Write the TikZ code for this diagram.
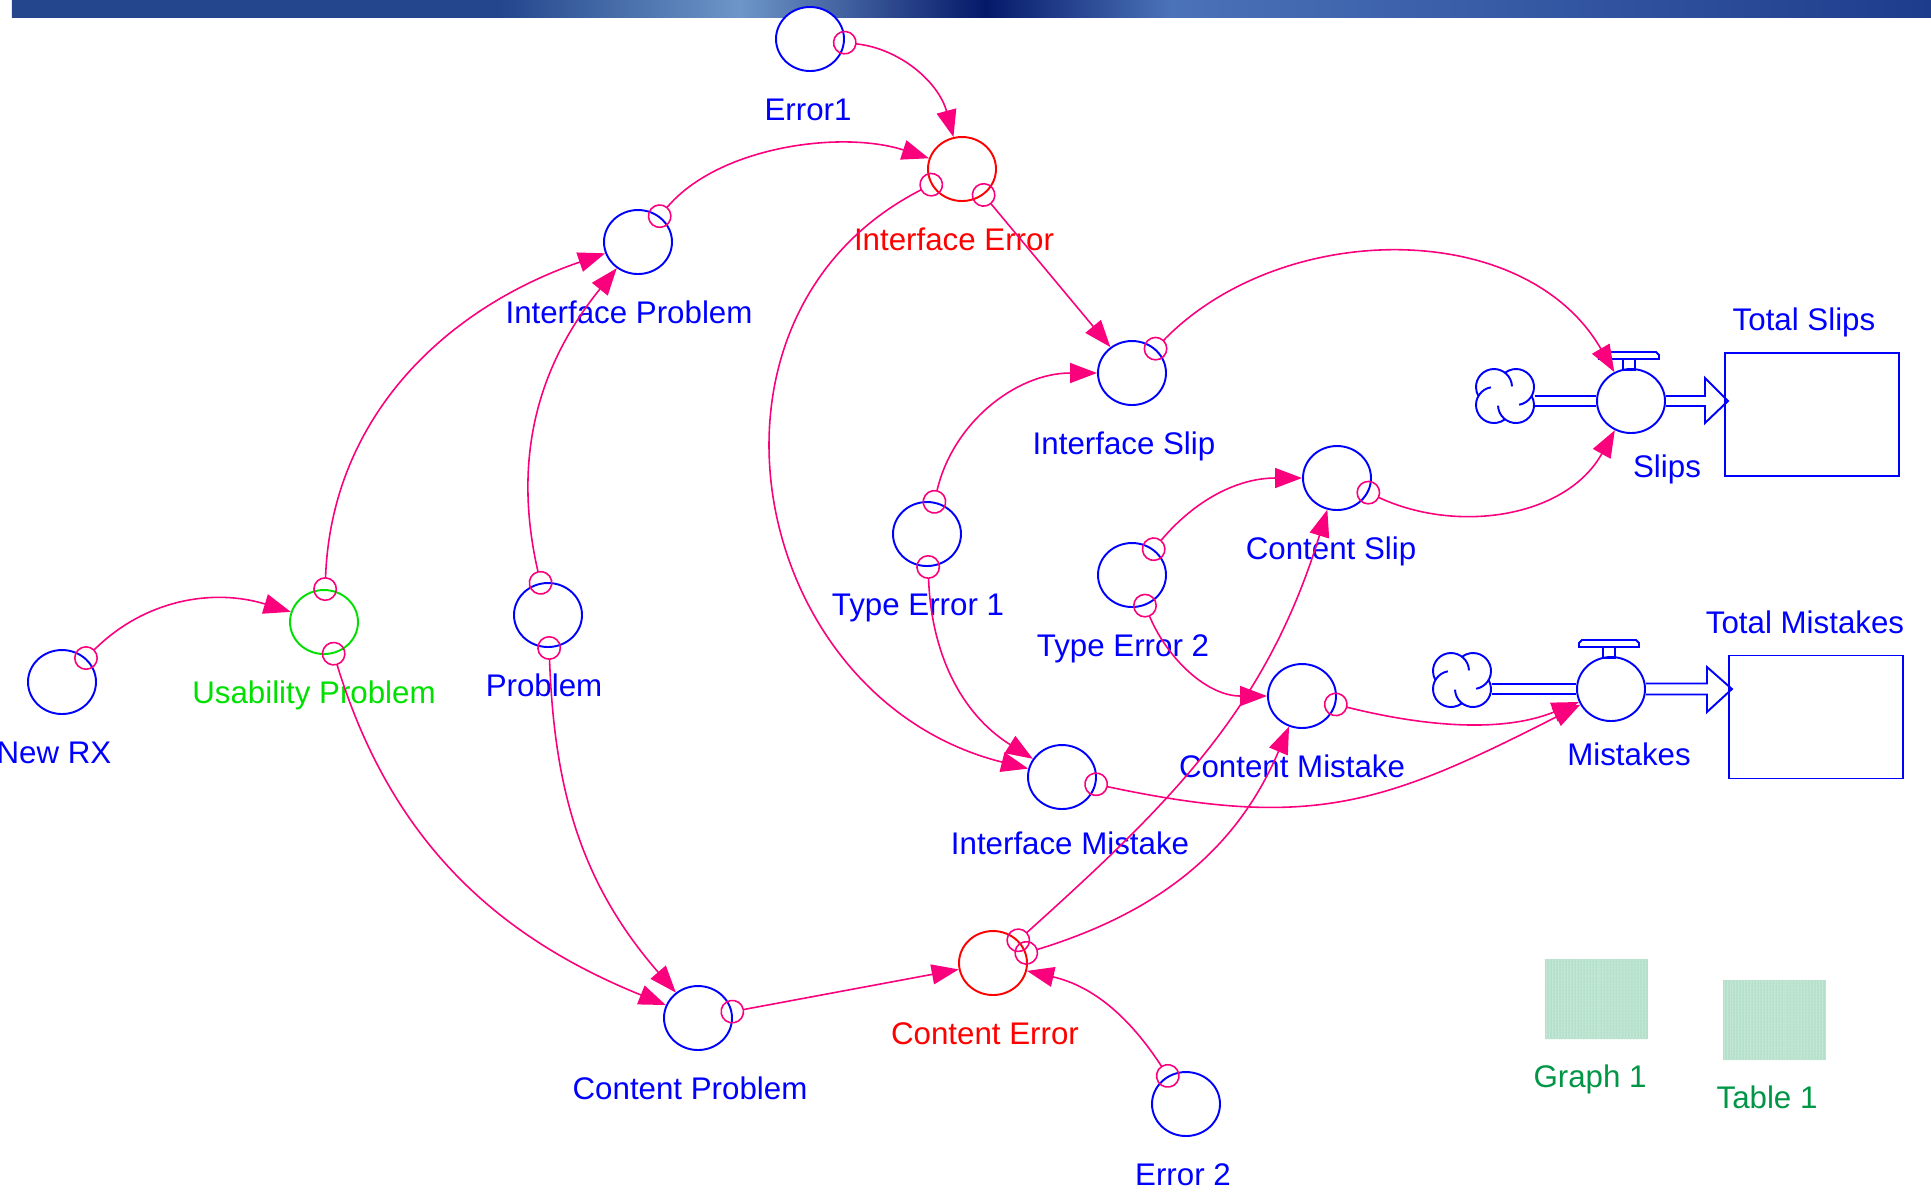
\documentclass[tikz,border=0pt]{standalone}
\usepackage{fontspec}
\setmainfont{Liberation Sans}
\usepackage{tikz}
\usetikzlibrary{arrows.meta, shapes.geometric, patterns.meta}
\usepackage{xcolor}

\definecolor{auxblue}{RGB}{0,0,255}
\definecolor{errred}{RGB}{255,0,0}
\definecolor{usegreen}{RGB}{0,224,0}
\definecolor{linkpink}{RGB}{250,0,125}
\definecolor{objgreen}{RGB}{0,150,70}
\definecolor{objfill}{RGB}{180,224,203}
\definecolor{objstripe}{RGB}{206,236,221}
\definecolor{bandA}{RGB}{35,70,140}
\definecolor{bandB}{RGB}{110,150,200}
\definecolor{bandC}{RGB}{5,25,105}
\definecolor{bandD}{RGB}{75,115,185}
\definecolor{bandE}{RGB}{30,60,140}

\begin{document}
\begin{tikzpicture}[
  font=\fontsize{8.9}{10}\selectfont,
  label distance=0.24cm,
  every label/.style={text height=6.7pt, text depth=2.2pt, inner sep=0pt},
  aux/.style={ellipse, draw=auxblue, fill=white, line width=0.55pt,
    minimum width=0.68cm, minimum height=0.64cm, inner sep=0pt},
  errnode/.style={aux, draw=errred},
  usenode/.style={aux, draw=usegreen},
  stock/.style={rectangle, draw=auxblue, line width=0.55pt,
    minimum width=1.74cm, minimum height=1.23cm},
  cloudbox/.style={rectangle, minimum width=0.58cm, minimum height=0.54cm, inner sep=0pt},
  objbox/.style={rectangle, fill=objfill, minimum width=1.03cm, minimum height=0.80cm,
    postaction={pattern={Lines[angle=90, distance=0.9pt, line width=0.35pt]}, pattern color=objstripe}},
  flowline/.style={draw=auxblue, line width=0.55pt},
  pipe/.style={draw=auxblue, line width=0.55pt, double=white, double distance=2.3pt},
  link/.style={draw=linkpink, line width=0.45pt,
    {Circle[open, length=0.24cm]}-{Triangle[length=0.27cm, width=0.2cm]},
    shorten <=-0.12cm},
  cloud/.pic={
    \draw[flowline] (-0.11,0.09) ++(2:0.18) arc[start angle=2, end angle=210, radius=0.18];
    \draw[flowline] (-0.11,-0.09) ++(100:0.18) arc[start angle=100, end angle=308, radius=0.18];
    \draw[flowline] (0.11,-0.09) ++(182:0.18) arc[start angle=182, end angle=390, radius=0.18];
    \draw[flowline] (0.11,0.09) ++(280:0.18) arc[start angle=280, end angle=488, radius=0.18];
  },
  handle/.pic={
    \draw[flowline] (-0.08,0.31) rectangle (0.04,0.42);
    \draw[flowline] (-0.32,0.42) -- (-0.32,0.46) -- (-0.29,0.49) -- (0.25,0.49)
      -- (0.28,0.46) -- (0.28,0.42) -- cycle;
  }
]
  \useasboundingbox (0,0) rectangle (19.31,-11.91);

  % title band
  \shade[left color=bandA, right color=bandA] (0.12,0) rectangle (5.0,-0.17);
  \shade[left color=bandA, right color=bandB] (5.0,0) rectangle (7.4,-0.17);
  \shade[left color=bandB, right color=bandC] (7.4,0) rectangle (9.85,-0.17);
  \shade[left color=bandC, right color=bandD] (9.85,0) rectangle (11.7,-0.17);
  \shade[left color=bandD, right color=bandE] (11.7,0) rectangle (19.31,-0.17);

  % converters
  \node[aux, label={[auxblue, xshift=-0.02cm]below:Error1}] (errA) at (8.10,-0.39) {};
  \node[errnode, label={[errred, xshift=-0.08cm]below:Interface Error}] (ie) at (9.62,-1.69) {};
  \node[aux, label={[auxblue, xshift=-0.09cm]below:Interface Problem}] (ip) at (6.38,-2.42) {};
  \node[usenode, label={[usegreen, xshift=-0.10cm]below:Usability Problem}] (up) at (3.24,-6.22) {};
  \node[aux, label={[auxblue, xshift=-0.08cm]below:New RX}] (nrx) at (0.62,-6.82) {};
  \node[aux, label={[auxblue, xshift=-0.04cm]below:Problem}] (prob) at (5.48,-6.15) {};
  \node[aux, label={[auxblue, xshift=-0.08cm]below:Content Problem}] (cp) at (6.98,-10.18) {};
  \node[errnode, label={[errred, xshift=-0.08cm]below:Content Error}] (ce) at (9.93,-9.63) {};
  \node[aux, label={[auxblue, xshift=-0.03cm]below:Error 2}] (errB) at (11.86,-11.04) {};
  \node[aux, label={[auxblue, xshift=-0.08cm]below:Interface Slip}] (is) at (11.32,-3.73) {};
  \node[aux, label={[auxblue, xshift=-0.09cm]below:Type Error 1}] (te1) at (9.27,-5.34) {};
  \node[aux, label={[auxblue, xshift=-0.06cm]below:Content Slip}] (cs) at (13.37,-4.78) {};
  \node[aux, label={[auxblue, xshift=-0.09cm]below:Type Error 2}] (te2) at (11.32,-5.75) {};
  \node[aux, label={[auxblue, xshift=-0.10cm]below:Content Mistake}] (cm) at (13.02,-6.96) {};
  \node[aux, label={[auxblue, xshift=0.08cm, yshift=0.04cm]below:Interface Mistake}] (im) at (10.62,-7.77) {};

  % flows and stocks
  \node[aux, label={[auxblue, xshift=0.36cm, yshift=0.05cm]below:Slips}] (slips) at (16.31,-4.01) {};
  \node[aux, label={[auxblue, xshift=0.18cm, yshift=0.05cm]below:Mistakes}] (mist) at (16.11,-6.89) {};
  \pic at (slips.center) {handle};
  \pic at (mist.center) {handle};
  \node[stock, label={[auxblue, xshift=-0.08cm, yshift=-0.11cm]above:Total Slips}] (totS) at (18.12,-4.145) {};
  \node[stock, label={[auxblue, xshift=-0.11cm, yshift=-0.11cm]above:Total Mistakes}] (totM) at (18.16,-7.17) {};
  \node[cloudbox] (cloudS) at (15.05,-3.96) {};
  \node[cloudbox] (cloudM) at (14.62,-6.80) {};
  \pic at (cloudS) {cloud};
  \pic at (cloudM) {cloud};
  \draw[pipe] (cloudS.east |- slips) -- (slips);
  \draw[pipe] (cloudM.east |- mist) -- (mist);
  \draw[flowline] (slips.east) ++(0,0.05) -- ++(0.39,0) -- ++(0,0.18) -- ++(0.23,-0.23)
    -- ++(-0.23,-0.22) -- ++(0,0.17) -- ++(-0.39,0);
  \draw[flowline] (mist.east) ++(0,0.055) -- ++(0.61,0) -- ++(0,0.165) -- ++(0.25,-0.22)
    -- ++(-0.25,-0.23) -- ++(0,0.175) -- ++(-0.61,0);

  % graph and table
  \node[objbox, label={[objgreen, xshift=-0.06cm]below:Graph 1}] (graph) at (15.96,-9.99) {};
  \node[objbox, label={[objgreen, xshift=-0.07cm]below:Table 1}] (table) at (17.74,-10.20) {};

  % connectors
  \draw[link] (errA) to[out=-6, in=105] (ie);
  \draw[link] (ip) to[out=50, in=162, looseness=0.85] (ie);
  \draw[link] (up) to[out=88, in=199] (ip);
  \draw[link] (prob) to[out=103, in=231] (ip);
  \draw[link] (nrx) to[out=45, in=163] (up);
  \draw[link] (up) to[out=-73, in=158] (cp);
  \draw[link] (prob) to[out=-88, in=131] (cp);
  \draw[link] (cp) -- (ce);
  \draw[link] (errB) to[out=123, in=-13] (ce);
  \draw[link] (ie) to[out=207, in=166, looseness=1.25] (im);
  \draw[link] (ie) -- (is);
  \draw[link] (is) to[out=46, in=120] (slips);
  \draw[link] (te1) to[out=77, in=180] (is);
  \draw[link] (te1) to[out=-88, in=148] (im);
  \draw[link] (te2) to[out=50, in=180] (cs);
  \draw[link] (te2) to[out=-67, in=180] (cm);
  \draw[link] (cs) to[out=-25, in=241] (slips);
  \draw[link] (cm) to[out=-14, in=202, looseness=0.9] (mist);
  \draw[link] (im) to[out=-12, in=207, looseness=1.15] (mist);
  \draw[link] (ce) to[out=42, in=253] (cs);
  \draw[link] (ce) to[out=17, in=247] (cm);
\end{tikzpicture}
\end{document}
